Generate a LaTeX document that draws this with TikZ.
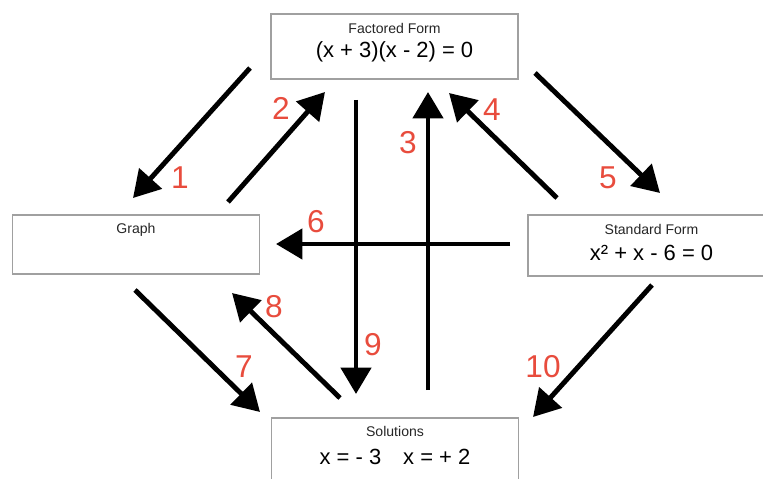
\documentclass[tikz,border=0pt]{standalone}
\usepackage{fontspec}
\setmainfont{Liberation Sans}
\usetikzlibrary{arrows.meta}
\definecolor{labelred}{RGB}{232,76,61}
\definecolor{boxgray}{RGB}{160,160,160}
\tikzset{formbox/.style={draw=boxgray, line width=0.8pt, minimum width=4.94cm, inner sep=0pt}}
\tikzset{boxtitle/.style={inner sep=0pt, text=black!85, font=\fontsize{8}{9}\selectfont}}
\tikzset{boxformula/.style={inner sep=0pt, font=\fontsize{12.5}{14}\selectfont}}
\tikzset{stepnum/.style={text=labelred, inner sep=0pt, font=\fontsize{18}{20}\selectfont}}
\tikzset{steparrow/.style={-{Triangle[length=15pt,width=17pt]}, line width=2.8pt}}

\begin{document}
\begin{tikzpicture}[x=0.02cm, y=-0.02cm]
\path[use as bounding box, clip] (0,0) rectangle (763,479);
% the four forms
\node[formbox, minimum height=1.3cm] (fact) at (394.5,46.5) {};
\node[formbox, minimum height=1.18cm] (graph) at (136,244.5) {};
\node[formbox, minimum height=1.22cm] (std) at (651.5,245.5) {};
\node[formbox, minimum height=1.3cm] (sol) at (395,450.5) {};
\node[boxtitle] (fact-t) at ([yshift=-0.31cm]fact.north) {Factored Form};
\node[boxformula] (fact-f) at ([yshift=-0.78cm]fact.north) {(x + 3)(x - 2) = 0};
\node[boxtitle] (graph-t) at ([yshift=-0.31cm]graph.north) {Graph};
\node[boxtitle] (std-t) at ([yshift=-0.31cm]std.north) {Standard Form};
\node[boxformula] (std-f) at ([yshift=-0.77cm]std.north) {x² + x - 6 = 0};
\node[boxtitle] (sol-t) at ([yshift=-0.29cm]sol.north) {Solutions};
\node[boxformula] (sol-f) at ([yshift=-0.8cm]sol.north) {x = - 3\quad x = + 2};
% arrow ends
\coordinate (a1s) at (250,68);  \coordinate (a1e) at (133,198);
\coordinate (a2s) at (228,202); \coordinate (a2e) at (325,92);
\coordinate (a3s) at (428,390); \coordinate (a3e) at (428,92);
\coordinate (a4s) at (557,198); \coordinate (a4e) at (449,93);
\coordinate (a5s) at (535,73);  \coordinate (a5e) at (660,193);
\coordinate (a6s) at (510,244); \coordinate (a6e) at (276,244);
\coordinate (a7s) at (135,290); \coordinate (a7e) at (260,412);
\coordinate (a8s) at (340,398); \coordinate (a8e) at (232,293);
\coordinate (a9s) at (356,100); \coordinate (a9e) at (356,394);
\coordinate (a10s) at (652,285); \coordinate (a10e) at (533,417);
\draw[steparrow] (a1s) -- (a1e);
\draw[steparrow] (a2s) -- (a2e);
\draw[steparrow] (a3s) -- (a3e);
\draw[steparrow] (a4s) -- (a4e);
\draw[steparrow] (a5s) -- (a5e);
\draw[steparrow] (a6s) -- (a6e);
\draw[steparrow] (a7s) -- (a7e);
\draw[steparrow] (a8s) -- (a8e);
\draw[steparrow] (a9s) -- (a9e);
\draw[steparrow] (a10s) -- (a10e);
% step numbers
\node[stepnum] (n1) at (180,178) {1};
\node[stepnum] (n2) at (281,108) {2};
\node[stepnum] (n3) at (408,143) {3};
\node[stepnum] (n4) at (492,110) {4};
\node[stepnum] (n5) at (608,178) {5};
\node[stepnum] (n6) at (316,222) {6};
\node[stepnum] (n7) at (244,367) {7};
\node[stepnum] (n8) at (274,307) {8};
\node[stepnum] (n9) at (373,345) {9};
\node[stepnum] (n10) at (543,367) {10};
\end{tikzpicture}
\end{document}
